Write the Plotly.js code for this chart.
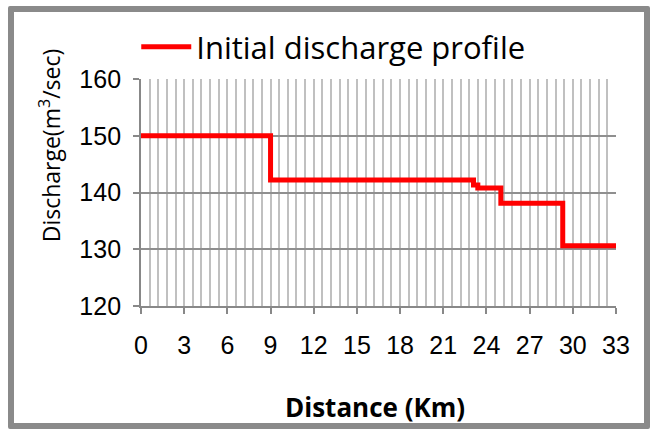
<!DOCTYPE html>
<html>
<head>
<meta charset="utf-8">
<script src="https://cdn.plot.ly/plotly-3.0.1.min.js"></script>
<style>
  html, body { margin: 0; padding: 0; background: #fff; }
  #wrap { position: relative; width: 650px; height: 429px; overflow: hidden; }
  #chart { position: absolute; left: 0; top: 0; width: 650px; height: 429px; }
  #frame { position: absolute; left: 8px; top: 6px; width: 630px; height: 411px;
           border: 6px solid #8a8a8a; border-radius: 2px; pointer-events: none; }
</style>
</head>
<body>
<div id="wrap">
  <div id="chart"></div>
  <div id="frame"></div>
</div>
<script>
// Distance (km) where each discharge level begins, and the discharge (m3/sec)
const distanceKm = [0, 9, 23.1, 23.4, 25, 29.3, 33];
const dischargeM3s = [150, 142.2, 141.3, 140.8, 138.1, 130.6, 130.6];
const seriesName = "Initial discharge profile";
const xTickVals = [0, 3, 6, 9, 12, 15, 18, 21, 24, 27, 30, 33];
const yTickVals = [120, 130, 140, 150, 160];
const yTickText = ["120", "130", "140", "150", "160"];

const trace = {
  x: distanceKm,
  y: dischargeM3s,
  type: "scatter",
  mode: "lines",
  name: seriesName,
  line: { color: "#ff0000", width: 5, shape: "hv" },
  showlegend: true
};

const layout = {
  width: 650, height: 429,
  margin: { l: 141, r: 34, t: 79, b: 123 },
  paper_bgcolor: "#ffffff",
  plot_bgcolor: "#ffffff",
  showlegend: true,
  legend: {
    x: -0.01, y: 1.14, xanchor: "left", yanchor: "middle",
    orientation: "h",
    itemwidth: 50,
    font: { family: "Open Sans, sans-serif", size: 31, color: "#000" },
    bgcolor: "rgba(0,0,0,0)"
  },
  xaxis: {
    range: [0, 33],
    tickvals: xTickVals,
    ticktext: xTickVals.map(String),
    ticks: "outside", ticklen: 6, tickcolor: "#888", tickwidth: 2,
    ticklabelstandoff: 10,
    showline: true, linecolor: "#888", linewidth: 2,
    showgrid: true, gridcolor: "#c0c0c0", gridwidth: 2,
    minor: { dtick: 0.6, tick0: 0, showgrid: true, gridcolor: "#c0c0c0", gridwidth: 2, ticks: "" },
    zeroline: false,
    tickfont: { family: "Liberation Sans, Arial, sans-serif", size: 25, color: "#000" }
  },
  yaxis: {
    range: [120, 160],
    tickvals: yTickVals,
    ticktext: yTickText.map(t => t + "\u00a0"),
    ticks: "outside", ticklen: 6, tickcolor: "#888", tickwidth: 2,
    showline: true, linecolor: "#888", linewidth: 2,
    showgrid: true, gridcolor: "#8f8f8f", gridwidth: 2,
    zeroline: false,
    tickfont: { family: "Liberation Sans, Arial, sans-serif", size: 25, color: "#000" }
  },
  annotations: [{
    text: "Discharge(m<sup>3</sup>/sec)",
    xref: "paper", yref: "paper",
    x: -0.192, y: 0.707, xanchor: "center", yanchor: "middle",
    textangle: -90, showarrow: false,
    font: { family: "Open Sans, sans-serif", size: 23, color: "#000" }
  }, {
    text: "<b>Distance (Km)</b>",
    xref: "paper", yref: "paper",
    x: 0.492, y: -0.445, xanchor: "center", yanchor: "middle",
    showarrow: false,
    font: { family: "Open Sans, sans-serif", size: 26, color: "#000" }
  }]
};

Plotly.newPlot("chart", [trace], layout, { displayModeBar: false, staticPlot: true });
</script>
</body>
</html>
